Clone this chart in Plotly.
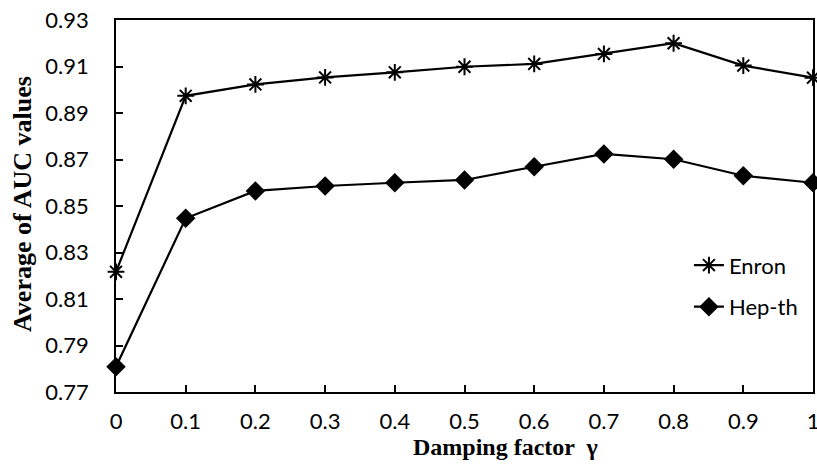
import plotly.graph_objects as go

gamma = [0, 0.1, 0.2, 0.3, 0.4, 0.5, 0.6, 0.7, 0.8, 0.9, 1.0]
enron = [0.8217, 0.8974, 0.9023, 0.9053, 0.9075, 0.9099, 0.9111, 0.9154, 0.9200, 0.9104, 0.9052]
hepth = [0.7809, 0.8447, 0.8565, 0.8586, 0.8600, 0.8612, 0.8669, 0.8724, 0.8701, 0.8630, 0.8600]
x_ticks = [0, 0.1, 0.2, 0.3, 0.4, 0.5, 0.6, 0.7, 0.8, 0.9, 1.0]
x_tick_labels = ["0", "0.1", "0.2", "0.3", "0.4", "0.5", "0.6", "0.7", "0.8", "0.9", "1"]
y_ticks = [0.77, 0.79, 0.81, 0.83, 0.85, 0.87, 0.89, 0.91, 0.93]
y_tick_labels = ["0.77", "0.79", "0.81", "0.83", "0.85", "0.87", "0.89", "0.91", "0.93"]

fig = go.Figure()
fig.add_trace(go.Scatter(
    x=gamma, y=enron, name="Enron", mode="lines+markers",
    line=dict(color="black", width=2.2),
    marker=dict(symbol="asterisk-open", size=14, color="black", line=dict(color="black", width=2)),
    legendgroup="a", cliponaxis=False,
))
fig.add_trace(go.Scatter(
    x=gamma, y=hepth, name="Hep-th", mode="lines+markers",
    line=dict(color="black", width=2.2),
    marker=dict(symbol="diamond", size=15, color="black"),
    legendgroup="b", cliponaxis=False,
))

sans = "Lato, Noto Sans, sans-serif"
serif = "Liberation Serif, Times New Roman, serif"
tickfont = dict(family=sans, size=22, color="black")

W, H = 817, 470
L, R, T, B = 116, 4, 20, 78
pw = W - L - R
ph = H - T - B

fig.update_layout(
    width=W, height=H,
    margin=dict(l=L, r=R, t=T, b=B, autoexpand=False),
    paper_bgcolor="white", plot_bgcolor="white",
    showlegend=True,
    legend=dict(x=0.822, y=0.397, xanchor="left", yanchor="top",
                font=dict(family=sans, size=22, color="black"),
                traceorder="grouped", tracegroupgap=10, bgcolor="rgba(0,0,0,0)"),
    xaxis=dict(range=[0, 1], tickvals=x_ticks, ticktext=x_tick_labels,
               ticks="inside", ticklen=7, tickcolor="black", tickwidth=1.5,
               showline=True, linecolor="black", linewidth=1.8, mirror=True,
               showgrid=False, zeroline=False, tickfont=tickfont,
               ticklabelstandoff=9, ticklabeloverflow="allow"),
    yaxis=dict(range=[0.77, 0.93], tickvals=y_ticks, ticktext=y_tick_labels,
               ticks="inside", ticklen=7, tickcolor="black", tickwidth=1.5,
               showline=True, linecolor="black", linewidth=1.8, mirror=True,
               showgrid=False, zeroline=False, tickfont=tickfont,
               ticklabelstandoff=21, ticklabeloverflow="allow"),
)
# x-axis title
fig.add_annotation(
    text="<b>Damping factor  γ</b>",
    x=(505 - L) / pw, y=(ph + T - 447) / ph, xref="paper", yref="paper",
    xanchor="center", yanchor="middle", showarrow=False,
    font=dict(family=serif, size=24, color="black"),
)
# y-axis title
fig.add_annotation(
    text="<b>Average of AUC values</b>", textangle=-90,
    x=(22 - L) / pw, y=(ph + T - 204) / ph, xref="paper", yref="paper",
    xanchor="center", yanchor="middle", showarrow=False,
    font=dict(family=serif, size=26, color="black"),
)

fig.write_html("out.html", config={"displayModeBar": False},
               post_script="document.body.style.margin='0px';")
